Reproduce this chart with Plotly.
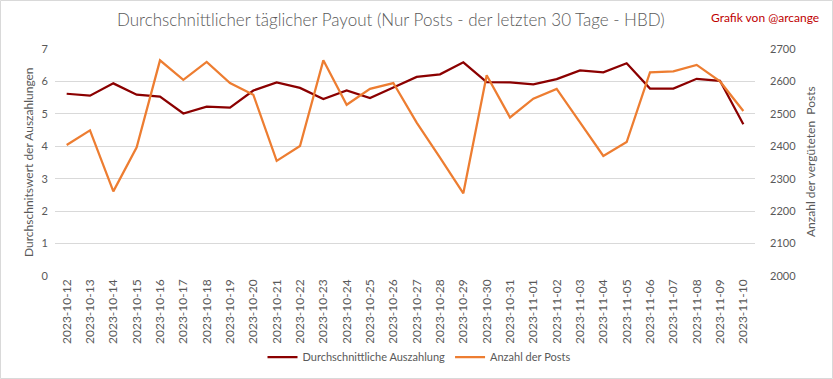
import plotly.graph_objects as go

dates = ["2023-10-12","2023-10-13","2023-10-14","2023-10-15","2023-10-16","2023-10-17",
         "2023-10-18","2023-10-19","2023-10-20","2023-10-21","2023-10-22","2023-10-23",
         "2023-10-24","2023-10-25","2023-10-26","2023-10-27","2023-10-28","2023-10-29",
         "2023-10-30","2023-10-31","2023-11-01","2023-11-02","2023-11-03","2023-11-04",
         "2023-11-05","2023-11-06","2023-11-07","2023-11-08","2023-11-09","2023-11-10"]

avg_payout = [5.62, 5.56, 5.94, 5.59, 5.53, 5.01, 5.22, 5.19, 5.72, 5.97,
              5.80, 5.46, 5.72, 5.49, 5.81, 6.14, 6.22, 6.59, 5.98, 5.97,
              5.91, 6.07, 6.34, 6.28, 6.56, 5.78, 5.78, 6.08, 6.02, 4.68]

num_posts = [2404, 2449, 2261, 2397, 2665, 2605, 2660, 2595, 2559, 2355,
             2401, 2665, 2528, 2577, 2595, 2473, 2365, 2255, 2619, 2489,
             2547, 2577, 2474, 2370, 2413, 2628, 2631, 2651, 2600, 2509]

W, H = 833, 379
L, R, T, B = 55, 78, 49, 103
pw, ph = W - L - R, H - T - B

FONT = "Lato"
GRAY = "#595959"

fig = go.Figure()
fig.add_trace(go.Scatter(x=dates, y=avg_payout, name="Durchschnittliche Auszahlung",
                         mode="lines", line=dict(color="#8B0000", width=2.25)))
fig.add_trace(go.Scatter(x=dates, y=num_posts, name="Anzahl der Posts", yaxis="y2",
                         mode="lines", line=dict(color="#ED7D31", width=2.25)))

def px_x(x):
    return (x - L) / pw

def px_y(y):
    return (H - B - y) / ph

fig.update_layout(
    width=W, height=H,
    margin=dict(l=L, r=R, t=T, b=B, autoexpand=False),
    paper_bgcolor="white", plot_bgcolor="white",
    font=dict(family=FONT, color=GRAY, size=11),
    showlegend=True,
    legend=dict(orientation="h", xref="container", yref="container",
                x=419 / W, xanchor="center", y=1 - 357 / H, yanchor="middle",
                font=dict(size=11, color=GRAY), itemwidth=30, tracegroupgap=0),
    xaxis=dict(type="category", tickangle=-90, showgrid=False, showline=False, automargin=False,
               ticks="", tickfont=dict(size=12, color=GRAY), range=[-0.5, 29.5]),
    yaxis=dict(range=[0, 7], dtick=1, showgrid=True, gridcolor="#D9D9D9", gridwidth=1,
               zeroline=False, showline=False, ticks="", tickfont=dict(size=11, color=GRAY),
               ticklabelstandoff=6, automargin=False),
    yaxis2=dict(range=[2000, 2700], dtick=100, overlaying="y", side="right", showgrid=False,
                zeroline=False, showline=False, ticks="", tickfont=dict(size=11, color=GRAY),
                ticklabelstandoff=14, automargin=False),
    annotations=[
        dict(text="Durchschnittlicher täglicher Payout (Nur Posts - der letzten 30 Tage - HBD)",
             xref="paper", yref="paper", x=px_x(391), y=px_y(20), xanchor="center", yanchor="middle",
             showarrow=False, font=dict(family=FONT, size=17, color=GRAY, weight=300)),
        dict(text="Grafik von @arcange", xref="paper", yref="paper", x=px_x(821), y=px_y(17),
             xanchor="right", yanchor="middle", showarrow=False,
             font=dict(family=FONT, size=12, color="#C00000")),
        dict(text="Durchschnitswert der Auszahlungen", xref="paper", yref="paper",
             x=px_x(28), y=px_y(162), textangle=-90, xanchor="center", yanchor="middle",
             showarrow=False, font=dict(family=FONT, size=12, color=GRAY)),
        dict(text="Anzahl der vergüteten  Posts", xref="paper", yref="paper",
             x=px_x(810), y=px_y(162), textangle=-90, xanchor="center", yanchor="middle",
             showarrow=False, font=dict(family=FONT, size=12, color=GRAY)),
    ],
    shapes=[dict(type="rect", xref="paper", yref="paper", x0=px_x(0.5), x1=px_x(W - 0.5),
                 y0=px_y(H - 0.5), y1=px_y(0.5), line=dict(color="#D9D9D9", width=1),
                 layer="below")],
)

fig.write_html("out.html", config={"displayModeBar": False},
               post_script="document.body.style.margin='0';")
